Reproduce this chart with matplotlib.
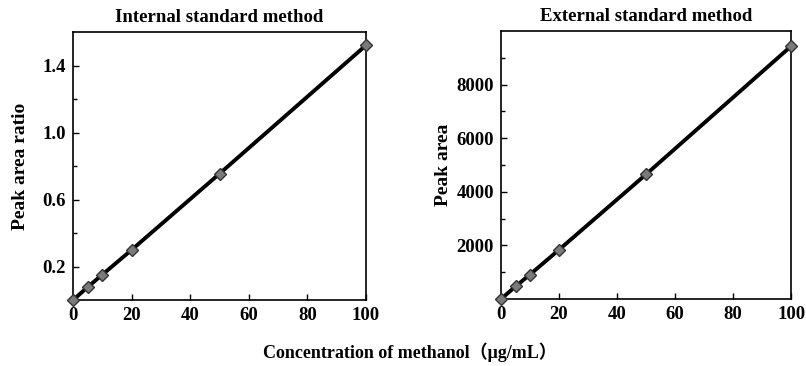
import matplotlib.pyplot as plt
from matplotlib.ticker import MultipleLocator

# Calibration data
conc = [0, 5, 10, 20, 50, 100]
ratio = [0.0, 0.078, 0.152, 0.300, 0.755, 1.522]
area = [0, 470, 915, 1840, 4655, 9440]

plt.rcParams['font.family'] = ['Liberation Serif', 'Noto Sans CJK SC']
plt.rcParams['font.weight'] = 'bold'

fig = plt.figure(figsize=(8.06, 3.66), dpi=100)
ax1 = fig.add_axes([0.0906, 0.180, 0.3635, 0.732])
ax2 = fig.add_axes([0.6216, 0.183, 0.360, 0.732])

for ax, y in [(ax1, ratio), (ax2, area)]:
    ax.plot(conc, y, color='black', lw=2.8, zorder=2)
    ax.plot(conc, y, linestyle='none', marker='D', ms=6.5, mfc='#7a7a7a',
            mec='#333333', mew=1.0, zorder=3, clip_on=False)
    ax.set_xlim(0, 100)
    ax.xaxis.set_major_locator(MultipleLocator(20))
    ax.tick_params(direction='in', length=4, width=1, labelsize=13.5, pad=5)
    ax.tick_params(which='minor', direction='in', length=3, width=1)
    for s in ax.spines.values():
        s.set_linewidth(1.2)

ax1.set_ylim(0, 1.6)
ax1.set_yticks([0.2, 0.6, 1.0, 1.4])
ax1.set_yticks([0.4, 0.8, 1.2], minor=True)
ax1.set_ylabel('Peak area ratio', fontsize=14, fontweight='bold', labelpad=10)
ax1.set_title('Internal standard method', fontsize=13.5, fontweight='bold', pad=7)

ax2.set_ylim(0, 10000)
ax2.set_yticks([2000, 4000, 6000, 8000])
ax2.set_yticks([1000, 3000, 5000, 7000, 9000], minor=True)
ax2.set_ylabel('Peak area', fontsize=14, fontweight='bold', labelpad=3)
ax2.set_title('External standard method', fontsize=13.5, fontweight='bold', pad=7)

for ax in (ax1, ax2):
    for lab in ax.get_xticklabels() + ax.get_yticklabels():
        lab.set_fontweight('bold')

fig.text(0.508, 0.022, 'Concentration of methanol（μg/mL）', ha='center',
         fontsize=13, fontweight='bold')

plt.savefig('out.png', dpi=100)
